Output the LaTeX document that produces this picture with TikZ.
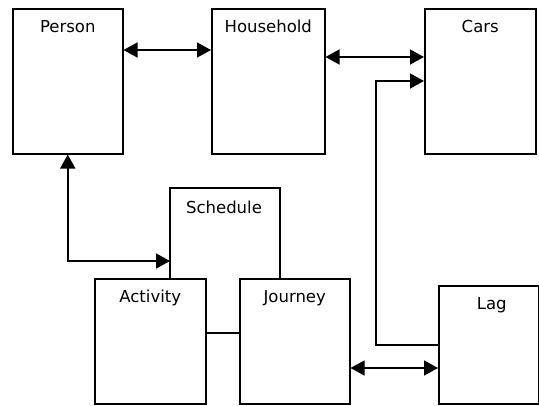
\documentclass[tikz,border=0pt]{standalone}
\usepackage{fontspec}
\setmainfont{DejaVu Sans}
\usetikzlibrary{arrows.meta,calc}
\begin{document}
\begin{tikzpicture}[x=1pt,y=-1pt,
  box/.style={draw, line width=1.5pt, fill=white, inner sep=0pt, anchor=north west},
  lbl/.style={anchor=base, font=\fontsize{16.5pt}{19pt}\selectfont, inner sep=0pt},
  conn/.style={line width=1.5pt},
  tip/.style={-{Triangle[length=14pt,width=15pt]}},
  tips/.style={{Triangle[length=14pt,width=15pt]}-{Triangle[length=14pt,width=15pt]}}]
\useasboundingbox (0,0) rectangle (539,405);
% boxes
\node[box, minimum width=110pt, minimum height=145pt] (person) at (12,8) {};
\node[box, minimum width=113pt, minimum height=145pt] (household) at (211,8) {};
\node[box, minimum width=111pt, minimum height=145pt] (cars) at (424,8) {};
% schedule (open outline behind activity/journey)
\coordinate (schNW) at (170,188);
\coordinate (schNE) at (280,188);
\draw[conn] (170,278) -- (schNW) -- (schNE) -- (280,278);
\node[lbl] (schedule) at (224,213) {Schedule};
\node[box, minimum width=111pt, minimum height=125pt] (activity) at (94,278) {};
\node[box, minimum width=110pt, minimum height=125pt] (journey) at (239,278) {};
\node[box, minimum width=100pt, minimum height=118pt] (lag) at (438,285) {};
% labels
\node[lbl] (personL) at ($(person.north)+(0,24)$) {Person};
\node[lbl] (householdL) at ($(household.north)+(0,24)$) {Household};
\node[lbl] (carsL) at ($(cars.north)+(0,24)$) {Cars};
\node[lbl] (activityL) at ($(activity.north)+(0,24)$) {Activity};
\node[lbl] (journeyL) at ($(journey.north)+(0,24)$) {Journey};
\node[lbl] (lagL) at ($(lag.north)+(3,24)$) {Lag};
% connectors
\draw[conn, tips] ($(person.north east)+(0,42)$) -- ($(household.north west)+(0,42)$);
\draw[conn, tips] ($(household.north east)+(0,49)$) -- ($(cars.north west)+(0,49)$);
\coordinate (lagturn) at (376,345);
\draw[conn, tip] ($(lag.north west)+(0,60)$) -- (lagturn) |- ($(cars.north west)+(0,73)$);
\draw[conn, tips] ($(journey.north east)+(0,90)$) -- ($(lag.north west)+(0,83)$);
\coordinate (psturn) at (67,261);
\draw[conn, tips] (person.south) |- (schNW |- psturn);
\draw[conn] ($(activity.north east)+(0,55)$) -- ($(journey.north west)+(0,55)$);
\end{tikzpicture}
\end{document}
